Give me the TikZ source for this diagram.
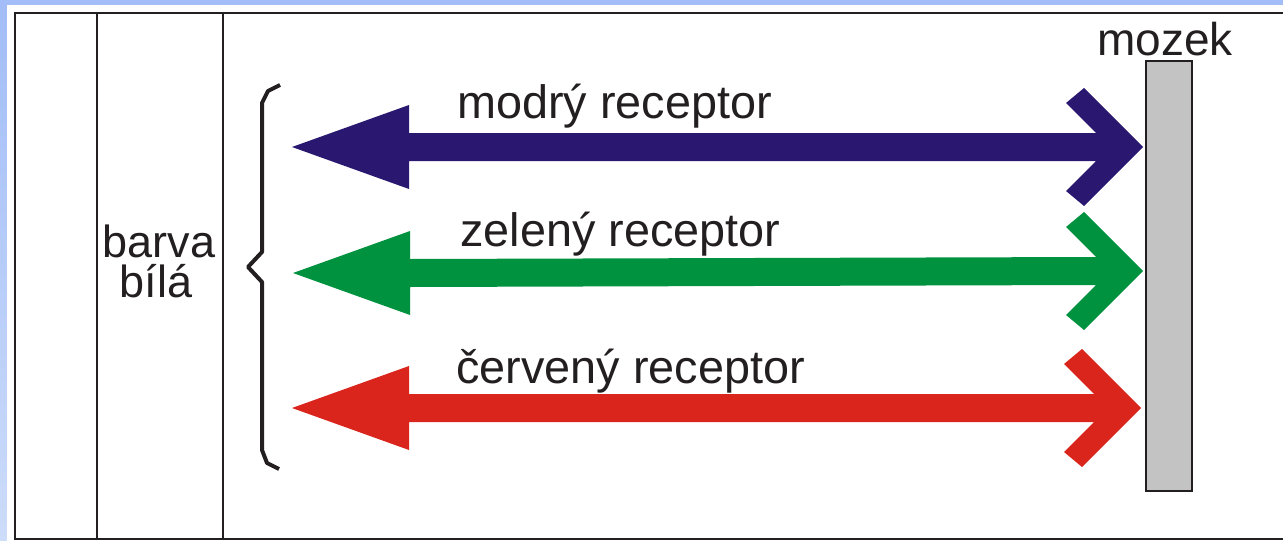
\documentclass[tikz,border=0pt]{standalone}
\usepackage{fontspec}
\setmainfont{Liberation Sans}
\usetikzlibrary{calc}
\definecolor{bgtop}{HTML}{A2BDF7}
\definecolor{bgbot}{HTML}{CCDCF9}
\definecolor{ink}{HTML}{231F20}
\definecolor{recblue}{HTML}{2A1870}
\definecolor{recgreen}{HTML}{00923F}
\definecolor{recred}{HTML}{DA251D}
\definecolor{brain}{HTML}{C3C3C3}
\tikzset{
  frame/.style={draw=ink, line width=2.2pt},
  brace/.style={draw=ink, line width=4pt, line join=round},
  label/.style={font=\fontsize{46.8}{46}\selectfont, text=ink, inner sep=0pt, anchor=base west},
  mid label/.style={font=\fontsize{45}{45}\selectfont, text=ink, inner sep=0pt, anchor=base},
  brainbox/.style={draw=ink, line width=2pt, fill=brain, inner sep=0pt, minimum width=46pt, minimum height=430pt},
}
\newcommand\recarrow[3]{%
  \fill[#1] (#2) -- ++(117,-42) -- ++(0,28) -- ($(#3)+(-47,-14)$) -- ++(-30,-30) -- ++(18,-15)
    -- (#3) -- ++(-59,59) -- ++(-18,-15) -- ++(30,-30) -- ($(#2)+(117,14)$) -- ++(0,28) -- cycle;
}
\begin{document}
\begin{tikzpicture}[x=1pt, y=-1pt]
  \useasboundingbox (0,0) rectangle (1283,541);
  % background
  \shade[top color=bgtop, bottom color=bgbot] (0,0) rectangle (1283,541);
  \fill[white] (7,5) rectangle (1283,541);
  % frame
  \draw[frame] (1283,13) -- (15,13) -- (15,539) -- (1283,539);
  \draw[frame] (97,13) -- (97,539);
  \draw[frame] (223,13) -- (223,539);
  % left text
  \node[mid label] (barva) at (159,257) {barva};
  \node[mid label] (bila) at (156,297) {bílá};
  % brace
  \draw[brace] (280,85) -- (268,91) -- (262,103) -- (262,252) -- (248,267) -- (262,282) -- (262,450) -- (267,463) -- (279,469);
  % brain
  \node[brainbox] (mozek) at (1169,276) {};
  \node[label, font=\fontsize{46}{46}\selectfont, anchor=base] (mozektext) at (1165,55) {mozek};
  % arrow end points
  \coordinate (blueL) at (292,147);
  \coordinate (blueR) at (1143,147);
  \coordinate (greenL) at (293,273);
  \coordinate (greenR) at (1143,271);
  \coordinate (redL) at (292,408);
  \coordinate (redR) at (1141,408);
  \recarrow{recblue}{blueL}{blueR}
  \recarrow{recgreen}{greenL}{greenR}
  \recarrow{recred}{redL}{redR}
  % labels
  \node[label] (modry) at (457,118) {modrý receptor};
  \node[label] (zeleny) at (460,246) {zelený receptor};
  \node[label] (cerveny) at (456,383) {červený receptor};
\end{tikzpicture}
\end{document}
